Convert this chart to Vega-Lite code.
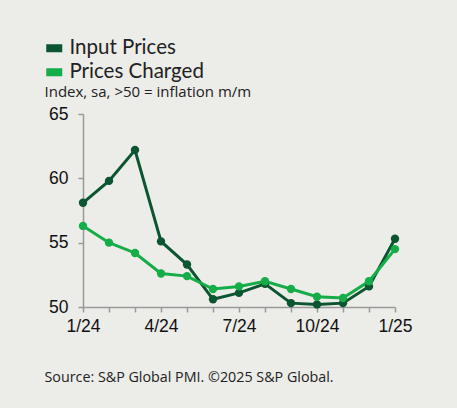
{
  "$schema": "https://vega.github.io/schema/vega-lite/v6.json",
  "width": 312,
  "height": 193,
  "autosize": {"type": "none"},
  "padding": {"left": 83, "top": 114, "right": 62, "bottom": 101},
  "background": "#ececE8",
  "config": {
    "view": {"stroke": null},
    "font": "Open Sans"
  },
  "data": {
    "values": [
      {"month": "1/24", "series": "Input Prices", "value": 58.1},
      {"month": "2/24", "series": "Input Prices", "value": 59.8},
      {"month": "3/24", "series": "Input Prices", "value": 62.2},
      {"month": "4/24", "series": "Input Prices", "value": 55.1},
      {"month": "5/24", "series": "Input Prices", "value": 53.3},
      {"month": "6/24", "series": "Input Prices", "value": 50.6},
      {"month": "7/24", "series": "Input Prices", "value": 51.1},
      {"month": "8/24", "series": "Input Prices", "value": 51.8},
      {"month": "9/24", "series": "Input Prices", "value": 50.3},
      {"month": "10/24", "series": "Input Prices", "value": 50.2},
      {"month": "11/24", "series": "Input Prices", "value": 50.3},
      {"month": "12/24", "series": "Input Prices", "value": 51.6},
      {"month": "1/25", "series": "Input Prices", "value": 55.3},
      {"month": "1/24", "series": "Prices Charged", "value": 56.3},
      {"month": "2/24", "series": "Prices Charged", "value": 55.0},
      {"month": "3/24", "series": "Prices Charged", "value": 54.2},
      {"month": "4/24", "series": "Prices Charged", "value": 52.6},
      {"month": "5/24", "series": "Prices Charged", "value": 52.4},
      {"month": "6/24", "series": "Prices Charged", "value": 51.4},
      {"month": "7/24", "series": "Prices Charged", "value": 51.6},
      {"month": "8/24", "series": "Prices Charged", "value": 52.0},
      {"month": "9/24", "series": "Prices Charged", "value": 51.4},
      {"month": "10/24", "series": "Prices Charged", "value": 50.8},
      {"month": "11/24", "series": "Prices Charged", "value": 50.7},
      {"month": "12/24", "series": "Prices Charged", "value": 52.0},
      {"month": "1/25", "series": "Prices Charged", "value": 54.5}
    ]
  },
  "encoding": {
    "x": {
      "field": "month",
      "type": "ordinal",
      "sort": null,
      "scale": {"type": "point", "padding": 0},
      "axis": {
        "title": "Source: S&P Global PMI. ©2025 S&P Global.",
        "titleFont": "Open Sans",
        "titleFontSize": 14.3,
        "titleFontWeight": "normal",
        "titleColor": "#222222",
        "titleAnchor": "start",
        "titleAlign": "left",
        "titleBaseline": "alphabetic",
        "titleX": -39,
        "titleY": 74,
        "labelAngle": 0,
        "labelFont": "Liberation Sans",
        "labelFontSize": 17.5,
        "labelColor": "#111111",
        "labelPadding": 5,
        "labelExpr": "indexof(['1/24','4/24','7/24','10/24','1/25'], datum.value) >= 0 ? datum.value : ''",
        "domainColor": "#9a9a9a",
        "domainWidth": 1.5,
        "tickColor": "#9a9a9a",
        "tickWidth": 1.5,
        "tickSize": 5,
        "grid": false
      }
    },
    "y": {
      "field": "value",
      "type": "quantitative",
      "scale": {"domain": [50, 65], "nice": false, "zero": false},
      "axis": {
        "title": "Index, sa, >50 = inflation m/m",
        "titleFont": "Open Sans",
        "titleFontSize": 15,
        "titleFontWeight": "normal",
        "titleColor": "#222222",
        "titleAngle": 0,
        "titleAlign": "left",
        "titleBaseline": "alphabetic",
        "titleX": -39,
        "titleY": -18,
        "values": [50, 55, 60, 65],
        "labelFont": "Liberation Sans",
        "labelFontSize": 17.5,
        "labelColor": "#111111",
        "labelPadding": 10,
        "domainColor": "#9a9a9a",
        "domainWidth": 1.5,
        "tickColor": "#9a9a9a",
        "tickWidth": 1.5,
        "tickSize": 5,
        "grid": false
      }
    },
    "color": {
      "field": "series",
      "type": "nominal",
      "scale": {"domain": ["Input Prices", "Prices Charged"], "range": ["#0b5530", "#14ad48"]},
      "legend": {
        "title": null,
        "orient": "none",
        "legendX": -39,
        "legendY": -76,
        "symbolType": "M-1,-0.5H1V0.5H-1Z",
        "symbolSize": 256,
        "symbolStrokeWidth": 0,
        "labelFont": "Lato",
        "labelFontSize": 20.5,
        "labelColor": "#222222",
        "labelOffset": 5,
        "rowPadding": 3
      }
    }
  },
  "layer": [
    {"mark": {"type": "line", "strokeWidth": 3}},
    {"mark": {"type": "circle", "size": 70, "opacity": 1}}
  ]
}
